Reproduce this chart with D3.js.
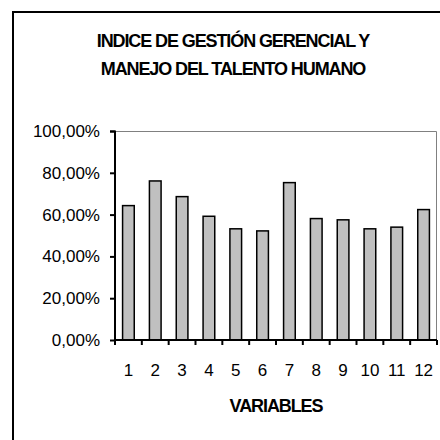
<!DOCTYPE html>
<html>
<head>
<meta charset="utf-8">
<script src="https://cdn.jsdelivr.net/npm/d3@7"></script>
<style>
  html, body { margin: 0; padding: 0; background: #fff; }
  svg { display: block; font-family: "Liberation Sans", Arial, sans-serif; }
</style>
</head>
<body>
<script>
// data
const titleLines = ['INDICE DE GESTIÓN GERENCIAL Y', 'MANEJO DEL TALENTO HUMANO'];
const xTitle = 'VARIABLES';
const variables = ['1', '2', '3', '4', '5', '6', '7', '8', '9', '10', '11', '12'];
const values = [0.643, 0.761, 0.686, 0.592, 0.532, 0.522, 0.753, 0.581, 0.575, 0.532, 0.540, 0.624];
const yTicks = [0, 0.2, 0.4, 0.6, 0.8, 1.0];

const width = 440, height = 440;
const margin = { top: 131, right: 3, bottom: 100, left: 115 };
const innerWidth = width - margin.left - margin.right;
const innerHeight = height - margin.top - margin.bottom;

const svg = d3.select('body').append('svg')
    .attr('width', width)
    .attr('height', height)
    .attr('viewBox', `0 0 ${width} ${height}`);

// outer chart frame: only its left and top edges fall inside the picture
svg.append('line')
    .attr('x1', 13).attr('x2', 13)
    .attr('y1', 11).attr('y2', height)
    .attr('stroke', '#000').attr('stroke-width', 2);
svg.append('line')
    .attr('x1', 12).attr('x2', width)
    .attr('y1', 12).attr('y2', 12)
    .attr('stroke', '#000').attr('stroke-width', 2);

// title
titleLines.forEach((line, i) => {
    svg.append('text')
        .attr('x', 233)
        .attr('y', 47 + i * 28)
        .attr('text-anchor', 'middle')
        .attr('font-weight', 'bold')
        .attr('font-size', 18)
        .attr('letter-spacing', -1.1)
        .text(line);
});

const x = d3.scaleBand()
    .domain(variables)
    .range([0, innerWidth])
    .paddingInner(0.565)
    .paddingOuter(0.2825);

const y = d3.scaleLinear()
    .domain([0, 1])
    .range([innerHeight, 0]);

const chart = svg.append('g')
    .attr('transform', `translate(${margin.left},${margin.top})`);

// plot area border (top and right, grey)
chart.append('path')
    .attr('d', `M0,0.5 H${innerWidth - 0.5} V${innerHeight}`)
    .attr('fill', 'none')
    .attr('stroke', '#808080')
    .attr('stroke-width', 1);

chart.selectAll('.bar')
    .data(values)
    .join('rect')
    .attr('class', 'bar')
    .attr('x', (d, i) => x(variables[i]))
    .attr('y', d => y(d))
    .attr('width', x.bandwidth())
    .attr('height', d => innerHeight - y(d))
    .attr('fill', '#c0c0c0')
    .attr('stroke', '#000')
    .attr('stroke-width', 1.5);

const yAxis = chart.append('g')
    .call(d3.axisLeft(y)
        .tickValues(yTicks)
        .tickSize(5)
        .tickPadding(10)
        .tickFormat(d => (d * 100).toFixed(2).replace('.', ',') + '%'));

// x axis ticks sit on the category boundaries
const step = innerWidth / variables.length;
const xAxis = chart.append('g')
    .attr('transform', `translate(0,${innerHeight})`)
    .call(d3.axisBottom(x).tickSize(0).tickPadding(24));

xAxis.selectAll('.boundary')
    .data(d3.range(variables.length + 1))
    .join('line')
    .attr('class', 'boundary')
    .attr('x1', d => d * step)
    .attr('x2', d => d * step)
    .attr('y1', 0)
    .attr('y2', 5)
    .attr('stroke', '#000')
    .attr('stroke-width', 2);

[yAxis, xAxis].forEach(a => {
    a.attr('font-family', '"Liberation Sans", Arial, sans-serif').attr('font-size', 17);
    a.select('.domain').attr('stroke', '#000').attr('stroke-width', 2);
    a.selectAll('.tick line').attr('stroke', '#000').attr('stroke-width', 2);
    a.selectAll('.tick text').attr('fill', '#000');
});
yAxis.select('.domain').attr('d', `M-5,0.5 H0 V${innerHeight}`);
xAxis.select('.domain').attr('d', `M0,0 H${innerWidth}`);

svg.append('text')
    .attr('x', margin.left + innerWidth / 2)
    .attr('y', 412)
    .attr('text-anchor', 'middle')
    .attr('font-weight', 'bold')
    .attr('font-size', 18)
    .attr('letter-spacing', -1.1)
    .text(xTitle);
</script>
</body>
</html>
